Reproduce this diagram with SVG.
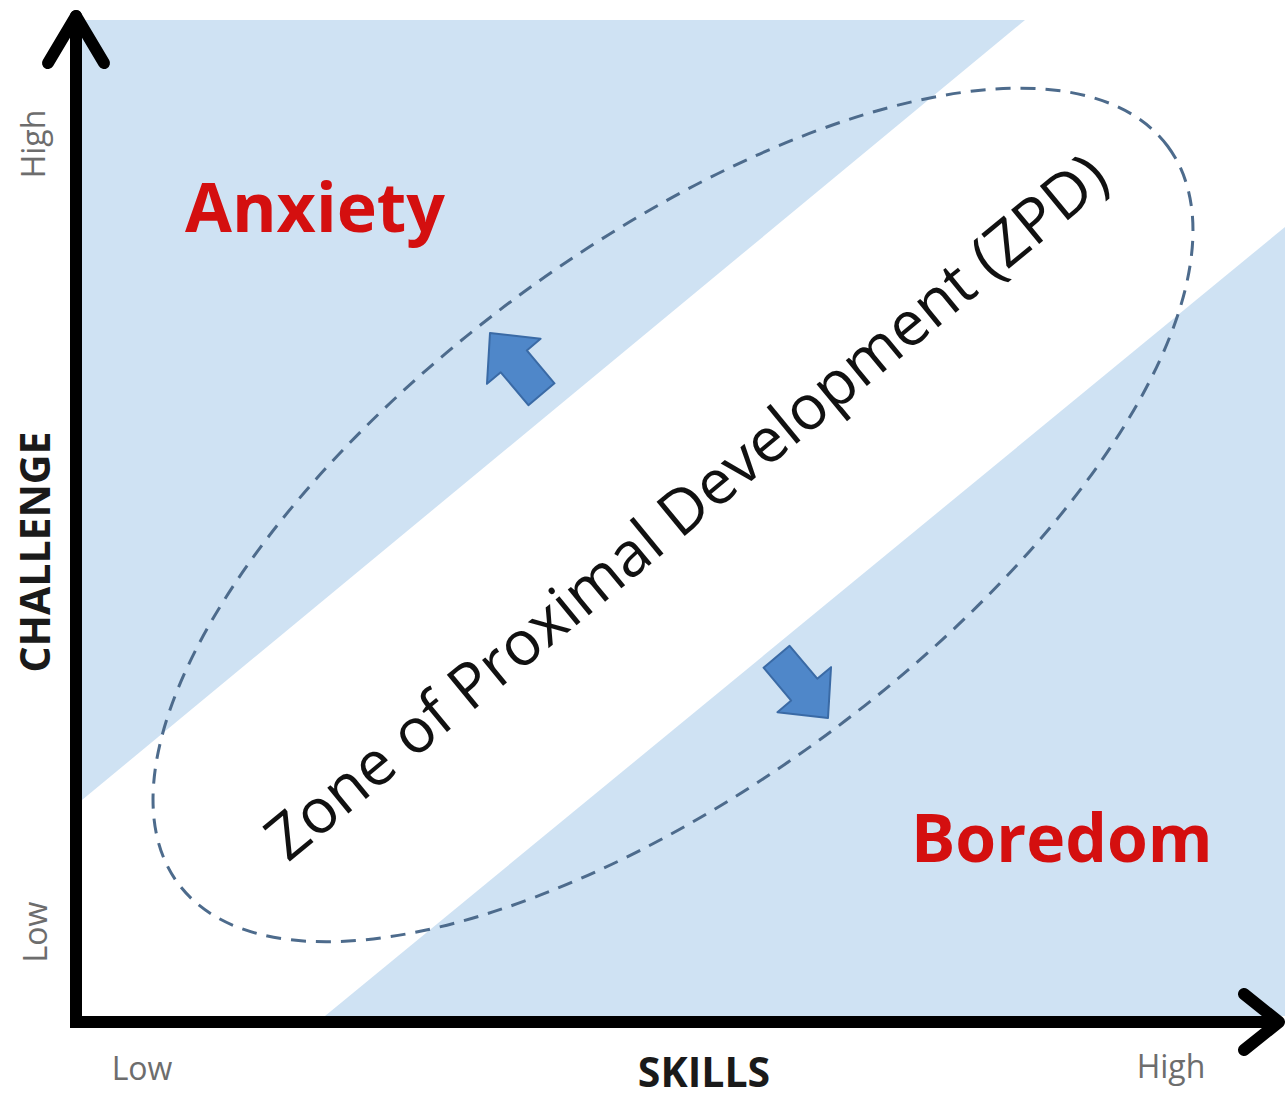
<svg xmlns="http://www.w3.org/2000/svg" width="1285" height="1101" viewBox="0 0 1285 1101">
<style>
.zone{fill:#cfe2f3;stroke:none}
.axis{fill:none;stroke:#000;stroke-width:12;stroke-linecap:round;stroke-linejoin:round}
.tick{font-family:"Open Sans","Liberation Sans",sans-serif;font-size:32px;fill:#6d6d6d;text-anchor:middle}
.title{font-family:"Open Sans","Liberation Sans",sans-serif;font-weight:bold;font-size:41px;fill:#1a1a1a;text-anchor:middle}
.state{font-family:"Open Sans","Liberation Sans",sans-serif;font-weight:bold;fill:#d40f0f}
.zpd{font-family:"Open Sans","Liberation Sans",sans-serif;font-size:62px;fill:#111}
.ell{fill:none;stroke:#4d6b8c;stroke-width:3;stroke-dasharray:15 10}
.barrow{fill:#4f87c9;stroke:#3a6aa5;stroke-width:2;stroke-linejoin:round}
</style>
<defs>
<polygon id="blk" points="0,0 35,37 17,37 17,80 -17,80 -17,37 -35,37"/>
</defs>
<rect x="0" y="0" width="1285" height="1101" fill="#fff"/>
<g id="anxiety-zone"><polygon class="zone" points="82,20 1025,20 82,800"/></g>
<g id="boredom-zone"><polygon class="zone" points="325,1016 1285,227 1285,1016"/></g>
<g id="zpd-ellipse"><ellipse class="ell" cx="673" cy="515" rx="617" ry="268" transform="rotate(-36.7 673 515)"/></g>
<g id="connectors">
<use href="#blk" class="barrow" transform="translate(490,333) rotate(-40)"/>
<use href="#blk" class="barrow" transform="translate(828,718) rotate(140)"/>
</g>
<g id="axes">
<polyline class="axis" points="76,16 76,1022 1278,1022" style="stroke-linejoin:miter"/>
<polyline class="axis" points="48,63 76,16 104,63"/>
<polyline class="axis" points="1244,994 1279,1022 1244,1050"/>
</g>
<g id="labels">
<text class="tick" transform="translate(45,144) rotate(-90)">High</text>
<text class="tick" transform="translate(47,932) rotate(-90)">Low</text>
<text class="title" transform="translate(50,552) rotate(-90)">CHALLENGE</text>
<text class="tick" x="142" y="1080">Low</text>
<text class="tick" x="1171" y="1078">High</text>
<text class="title" x="704" y="1087">SKILLS</text>
</g>
<g id="anxiety"><text class="state" x="185" y="232" font-size="68">Anxiety</text></g>
<g id="boredom"><text class="state" x="911" y="862" font-size="66">Boredom</text></g>
<g id="zpd"><text class="zpd" transform="translate(288,863) rotate(-39.5)" textLength="1068">Zone of Proximal Development (ZPD)</text></g>
</svg>
